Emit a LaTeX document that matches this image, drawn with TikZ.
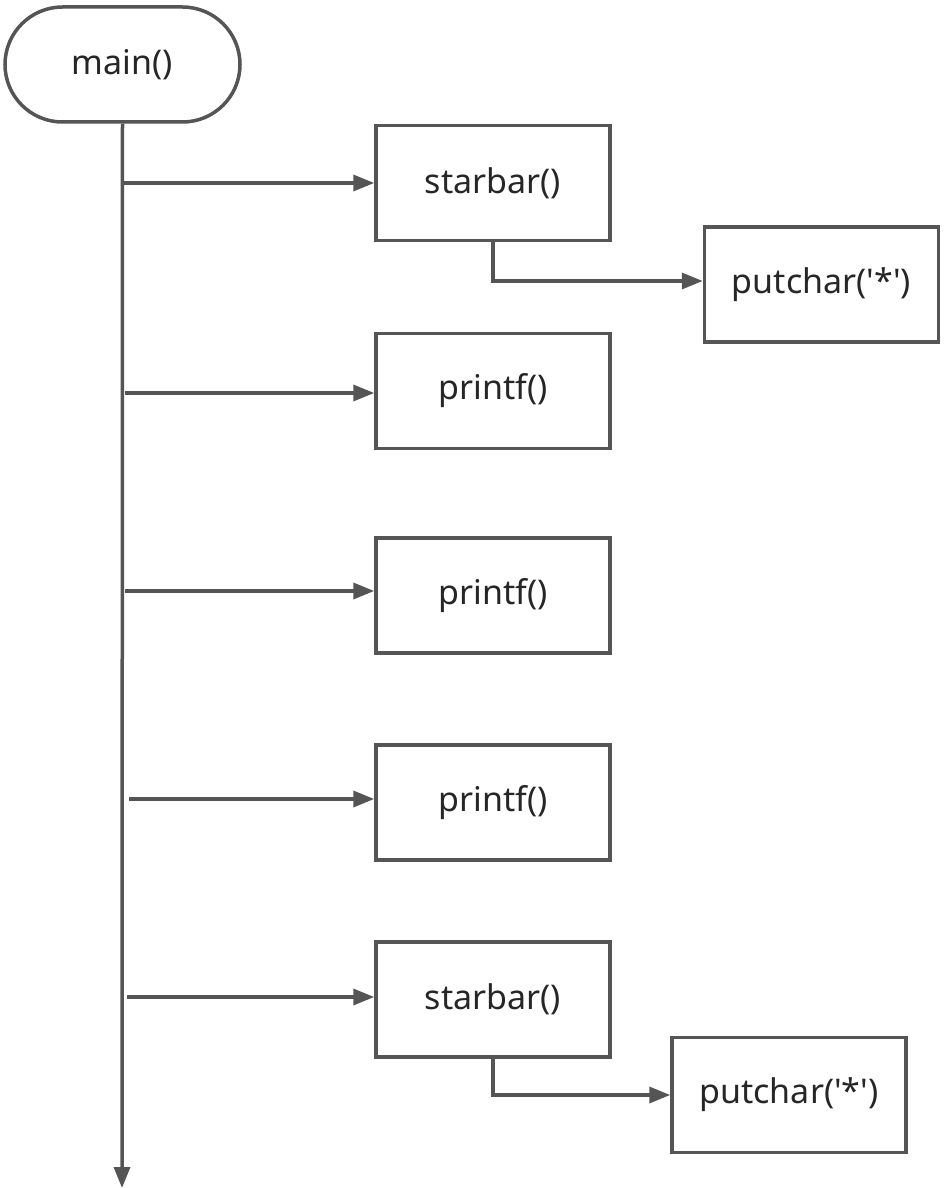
\documentclass[tikz,border=0pt]{standalone}
\usepackage{fontspec}
\setmainfont{Noto Sans}
\usetikzlibrary{arrows.meta,shapes.misc}
\definecolor{lc}{HTML}{555555}
\definecolor{tc}{HTML}{262626}
\begin{document}
\begin{tikzpicture}[x=1pt,y=-1pt,
  every node/.style={font=\fontsize{34}{40}\selectfont, text=tc},
  box/.style={draw=lc, line width=3.5pt, rectangle, minimum width=234pt, minimum height=115pt, inner sep=0pt},
  term/.style={draw=lc, line width=3.5pt, rounded rectangle, minimum width=235pt, minimum height=115pt, inner sep=0pt},
  arr/.style={draw=lc, line width=3.5pt, -{Triangle[length=21pt,width=16pt]}},
  ln/.style={draw=lc, line width=3.5pt}]
\useasboundingbox (0,0) rectangle (948,1188);
\node[term] (main) at (122.5,64.5) {main()};
\node[box] (s1) at (493,183) {starbar()};
\node[box] (p1) at (821.5,284.5) {putchar(\textquotesingle*\textquotesingle)};
\node[box] (f1) at (493,391) {printf()};
\node[box] (f2) at (493,595.5) {printf()};
\node[box] (f3) at (493,802.5) {printf()};
\node[box] (s2) at (493,999.5) {starbar()};
\node[box] (p2) at (789,1095) {putchar(\textquotesingle*\textquotesingle)};
\coordinate (end) at (122,1188);
\coordinate (a1) at (122,183);
\coordinate (a2) at (125,393);
\coordinate (a3) at (125,591);
\coordinate (a4) at (129,799);
\coordinate (a5) at (127,997);
\draw[arr] (main.south) -- (end);
\draw[arr] (a1) -- (a1 -| s1.west);
\draw[arr] (a2) -- (a2 -| f1.west);
\draw[arr] (a3) -- (a3 -| f2.west);
\draw[arr] (a4) -- (a4 -| f3.west);
\draw[arr] (a5) -- (a5 -| s2.west);
\coordinate (b1) at (493,281);
\coordinate (b2) at (493,1095);
\draw[arr] (s1.south) -- (b1) -- (b1 -| p1.west);
\draw[arr] (s2.south) -- (b2) -- (p2.west);
\end{tikzpicture}
\end{document}
